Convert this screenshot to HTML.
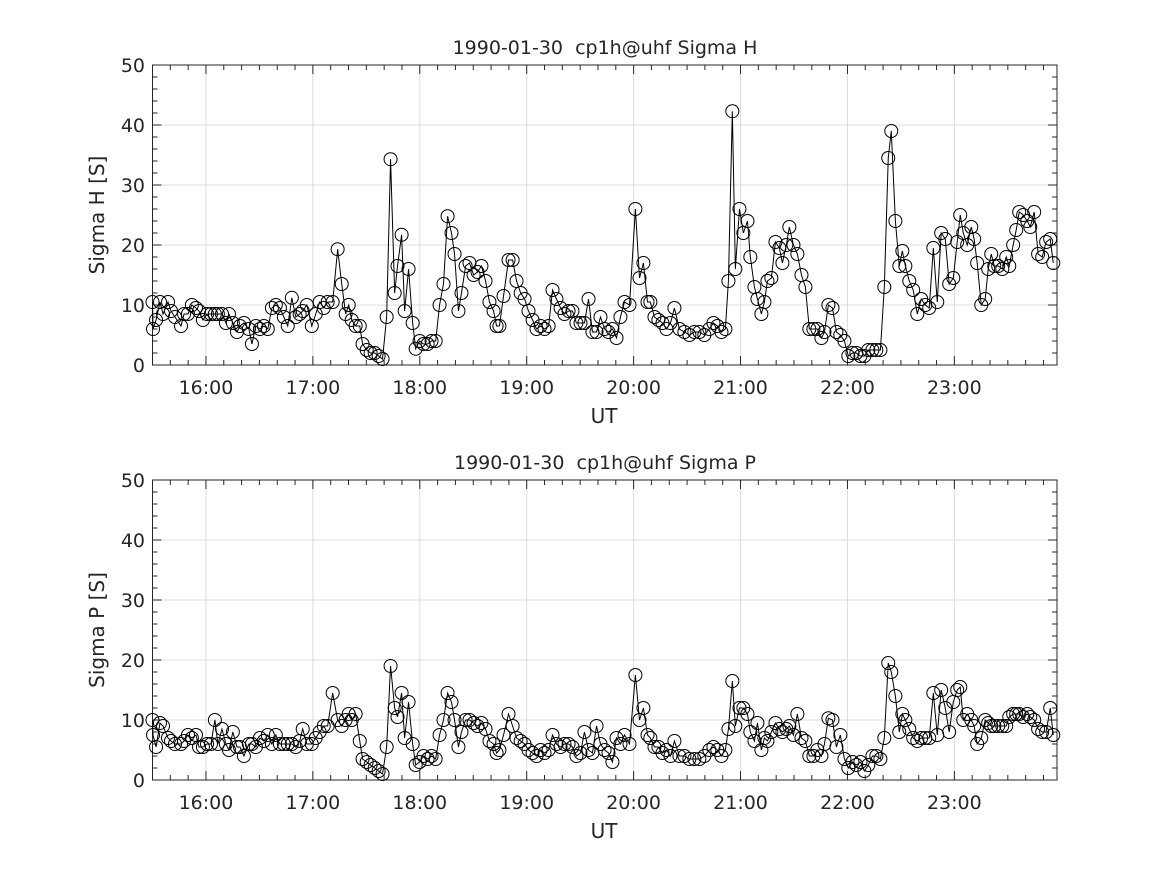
<!DOCTYPE html>
<html><head><meta charset="utf-8"><style>
body{margin:0;background:#fff;}
svg text{font-family:"DejaVu Sans","Liberation Sans",sans-serif;fill:#262626;white-space:pre;}
</style></head><body>
<svg id="fig" width="1167" height="875" xmlns="http://www.w3.org/2000/svg"></svg>
<script>
const minutesAfter1530 = [0,0.3,2.0,4.2,5.9,8.7,10.4,12.6,16.0,17.7,19.9,22.1,24.4,26.1,28.3,30.6,32.8,35.0,36.7,39.0,41.2,42.9,45.1,47.4,49.1,51.3,54.1,55.8,58.0,60.3,62.5,64.7,67.0,69.2,71.5,73.7,75.9,78.2,80.4,82.6,84.3,86.6,89.4,91.6,93.8,96.1,98.3,101.1,103.9,106.2,108.4,110.1,111.8,114.0,116.3,117.9,120.2,122.4,124.7,126.9,129.1,131.4,133.6,135.9,137.5,139.8,141.5,143.7,146.0,147.7,149.9,152.1,154.4,156.6,158.9,161.1,163.3,165.6,167.8,169.5,171.7,173.4,175.7,177.9,180.2,182.4,184.6,186.9,189.1,191.4,193.1,194.7,197.0,199.8,202.1,204.3,206.6,208.8,211.0,213.3,215.5,217.8,220.0,222.3,224.5,226.7,229.0,231.2,233.5,235.7,237.9,240.2,242.4,244.7,246.9,249.2,251.4,253.7,255.9,258.1,260.4,262.6,264.9,267.7,271.0,273.3,275.5,277.8,279.4,281.7,283.9,286.2,288.4,290.7,292.9,295.7,298.5,301.3,304.1,306.9,309.7,312.5,314.8,317.0,319.3,321.5,323.2,325.4,327.1,329.4,331.6,333.9,335.5,337.8,339.5,341.7,343.4,345.1,347.3,349.6,351.8,353.5,355.7,357.4,359.7,361.9,364.2,366.4,368.6,370.9,373.1,375.4,377.1,379.3,381.6,383.8,386.0,388.3,390.5,392.8,395.0,397.3,399.5,401.7,404.0,406.2,408.5,410.7,412.9,414.6,416.9,419.1,420.8,422.5,424.7,426.9,429.2,431.4,433.7,435.9,438.2,440.4,442.6,444.9,447.1,449.4,451.6,453.3,455.0,457.2,459.5,461.1,462.8,465.1,467.3,469.0,470.7,472.4,474.6,476.9,479.1,480.8,483.0,484.7,486.4,488.6,490.9,492.6,494.8,497.0,499.3,501.5,503.8,505.5];
const sigmaH = [10.5,6,7.5,10.5,8.5,10.5,9,8,6.5,8.5,8.5,10,9.5,9,7.5,8.5,8.5,8.5,8.5,8.5,7,8.5,7,5.5,6.5,7,6,3.5,6.5,6,6.5,6,9.5,10,9.5,8,6.5,11.2,8,8.5,9,10,6.5,8.5,10.5,9.5,10.5,10.5,19.3,13.5,8.5,10,7.5,6.5,6.5,3.5,2.5,2,2,1.5,1,8,34.3,12,16.5,21.7,9,16,7,2.7,4,3.5,3.5,4,4,10,13.5,24.8,22,18.5,9,12,16.5,17,15,15.5,16.5,14,10.5,9,6.5,6.5,11.5,17.5,17.5,14,12,11,9,7.5,6,6.5,6,6.5,12.5,11,9.5,8.5,9,9,7,7,7,11,5.5,5.5,8,6,5.5,6,4.5,8,10.5,10,26,14.5,17,10.5,10.5,8,7.5,7,6,7,9.5,6,5.5,5,5.5,5.5,5,6,7,6.5,5.5,6,14,42.3,16,26,22,24,18,13,11,8.5,10.5,14,14.5,20.5,19.5,17,20,23,20,18.5,15,13,6,6,6,4.5,5.5,10,9.5,5.5,5,4,1.5,2,2,1.5,1.5,2.5,2.5,2.5,2.5,13,34.5,39,24,16.5,19,16.5,14,12.5,8.5,11,10,9.5,19.5,10.5,22,21,13.5,14.5,20.5,25,22,20,23,21,17,10,11,16,18.5,16.5,16.5,16,18,16.5,20,22.5,25.5,25,24,23,25.5,18.5,18,20.5,21,17];
const sigmaP = [10,7.5,5.5,9.5,9,7,6.5,6,6,6.5,7.5,7,7.5,5.5,5.5,6,6,10,6,8.5,6,5,8,5.5,5.5,4,6,6,5.5,7,6.5,7.5,6,7.5,6,6,6,6,5.5,6.5,8.5,6,6,7,8,9,9,14.5,10,9,10,11,10,11,6.5,3.5,3,2.5,2,1.5,1,5.5,19,12,10.5,14.5,7,13,6,2.5,3,4,3.5,4,3.5,7.5,10,14.5,13,10,5.5,8,10,10,9.5,9,9.5,8.5,6.5,6,4.5,5,7.5,11,9,7,6.5,6,5,4.5,4,5,4.5,5,7.5,6,5.5,6,6,5.5,4,4.5,8,5,4.5,9,6,5,4.5,3,7,6,7.5,6,17.5,10,12,7.5,7,5.5,5.5,4.5,5,4,6.5,4,4,3.5,3.5,3.5,4,5,5.5,5,4,5,8.5,16.5,9,12,12,11,8,6.5,9.5,5,7,6.5,8,9.5,8.5,8,8.5,9,7.5,11,7,6.5,4,4,5,4,6,10.3,10,5.5,7.5,3.5,2,3,2.5,3,1.5,2.5,4,4,3.5,7,19.5,18,14,8,11,10,8.5,7,6.5,7,7,7,14.5,7.5,15,12,8,13,15,15.5,10,11,10,9,6,7,10,9.5,9,9,9,9,9,10.5,11,11,11,10.5,11,10.5,10,8.5,8,8,12,7.5];
const xTickLabels = ["16:00","17:00","18:00","19:00","20:00","21:00","22:00","23:00"];
const yTickLabels = [0,10,20,30,40,50];
const X0=152.5, X1=1057, XMIN=15.5, XMAX=23.96;
const NS="http://www.w3.org/2000/svg";
const svg=document.getElementById('fig');
function mk(tag,attrs,parent){const e=document.createElementNS(NS,tag);for(const k in attrs)e.setAttribute(k,attrs[k]);(parent||svg).appendChild(e);return e;}
function xs(h){return X0+(h-XMIN)/(XMAX-XMIN)*(X1-X0);}
function drawPanel(top,vals,title,ylab,key){
  const bot=top+300;
  const ys=v=>bot-v/50*300;
  const g=mk('g',{});
  
  
  yTickLabels.forEach(v=>{const l=mk('line',{x1:X0,x2:X1,y1:ys(v),y2:ys(v),stroke:'#dcdcdc','stroke-width':1},g);
    
    });
  xTickLabels.forEach((t,i)=>{const h=16+i;const l=mk('line',{x1:xs(h),x2:xs(h),y1:top,y2:bot,stroke:'#dcdcdc','stroke-width':1},g);
    
    });
  for(let v=0;v<=50;v+=2){const maj=v%10===0;const len=maj?9:5;
    mk('line',{x1:X0,x2:X0+len,y1:ys(v),y2:ys(v),stroke:'#262626'},g);
    mk('line',{x1:X1,x2:X1-len,y1:ys(v),y2:ys(v),stroke:'#262626'},g);}
  for(let m=0;m<=510;m+=10){const h=XMIN+m/60;if(h>XMAX)break;const maj=m%60===30;const len=maj?9:5;
    mk('line',{x1:xs(h),x2:xs(h),y1:bot,y2:bot-len,stroke:'#262626'},g);
    mk('line',{x1:xs(h),x2:xs(h),y1:top,y2:top+len,stroke:'#262626'},g);}
  const box=mk('rect',{x:X0,y:top,width:X1-X0,height:300,fill:'none',stroke:'#262626','stroke-width':1},g);
  
  
  yTickLabels.forEach(v=>{const t=mk('text',{x:145,y:ys(v)+7,'text-anchor':'end','font-size':19},g);t.textContent=v;
    
    });
  xTickLabels.forEach((s,i)=>{const t=mk('text',{x:xs(16+i),y:bot+29,'text-anchor':'middle','font-size':19},g);t.textContent=s;
    
    });
  const tt=mk('text',{x:605,y:top-11,'text-anchor':'middle','font-size':19},g);tt.textContent=title;
  
  
  const xl=mk('text',{x:604,y:bot+58,'text-anchor':'middle','font-size':20},g);xl.textContent='UT';
  
  
  const yl=mk('text',{x:0,y:0,'text-anchor':'middle','font-size':20,transform:`translate(104,${top+150}) rotate(-90)`},g);yl.textContent=ylab;
  
  
  const n=Math.min(vals.length,minutesAfter1530.length);
  const pts=[];
  for(let i=0;i<n;i++)pts.push([xs(XMIN+minutesAfter1530[i]/60),ys(vals[i])]);
  const pl=mk('polyline',{points:pts.map(p=>p.join(',')).join(' '),fill:'none',stroke:'#000','stroke-width':1},g);
  
  
  pts.forEach(p=>{const c=mk('circle',{cx:p[0],cy:p[1],r:6.5,fill:'none',stroke:'#000','stroke-width':1},g);
    
    });
}
drawPanel(65,sigmaH,'1990-01-30  cp1h@uhf Sigma H','Sigma H [S]','sigma-h');
drawPanel(480,sigmaP,'1990-01-30  cp1h@uhf Sigma P','Sigma P [S]','sigma-p');
</script>
</body></html>
